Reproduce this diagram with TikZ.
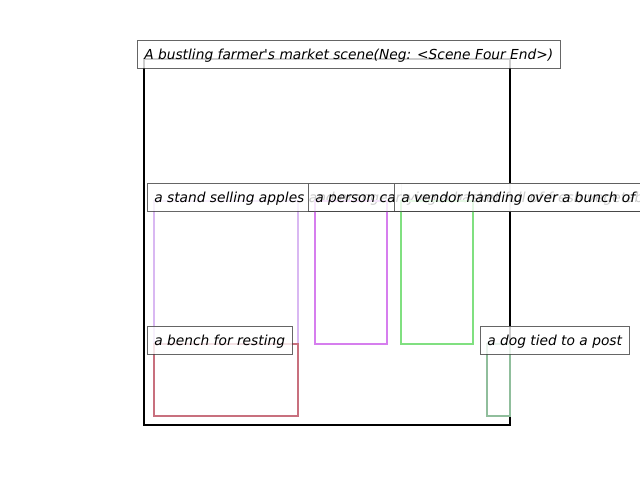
\documentclass[tikz,border=0pt]{standalone}
\usepackage{fontspec}
\setmainfont{DejaVu Sans}
\usepackage{xcolor}
\definecolor{standc}{HTML}{D9B8F2}
\definecolor{personc}{HTML}{D67EEE}
\definecolor{vendorc}{HTML}{80E080}
\definecolor{benchc}{HTML}{C8707E}
\definecolor{dogc}{HTML}{90BE9C}
\begin{document}
\begin{tikzpicture}[x=0.025cm, y=-0.025cm,
  every node/.style = {font=\fontsize{9.8pt}{12pt}\selectfont\itshape},
  lbl/.style = {shape=rectangle, anchor=west, draw=black!75,
    fill=white, fill opacity=0.8, draw opacity=0.8, text opacity=1,
    inner xsep=4.96pt, inner ysep=0pt, minimum height=19.8pt,
    text height=8.6pt, text depth=1.0pt},
  box/.style = {line width=1.5pt}]
  \useasboundingbox (0,0) rectangle (640,480);
  \clip (0,0) rectangle (640,480);
  % scene frame
  \draw[line width=1.8pt] (144,59) rectangle (510,425);
  \node[lbl] (title) at (137,54) {A bustling farmer\textquotesingle s market scene(Neg: <Scene Four End>)};
  % objects
  \draw[box, standc] (154,201) rectangle (298,344);
  \node[lbl] (stand) at (147,197) {a stand selling apples and oranges};
  \draw[box, personc] (315,201) rectangle (387,344);
  \node[lbl] (person) at (308,197) {a person carrying a basket full of fresh vegetables};
  \draw[box, vendorc] (401,201) rectangle (473,344);
  \node[lbl] (vendor) at (394,197) {a vendor handing over a bunch of flowers to a customer};
  \draw[box, benchc] (154,344) rectangle (298,416);
  \node[lbl] (bench) at (147,340) {a bench for resting};
  \draw[box, dogc] (487,344) rectangle (510,416);
  \node[lbl] (dog) at (480,340) {a dog tied to a post};
\end{tikzpicture}
\end{document}
